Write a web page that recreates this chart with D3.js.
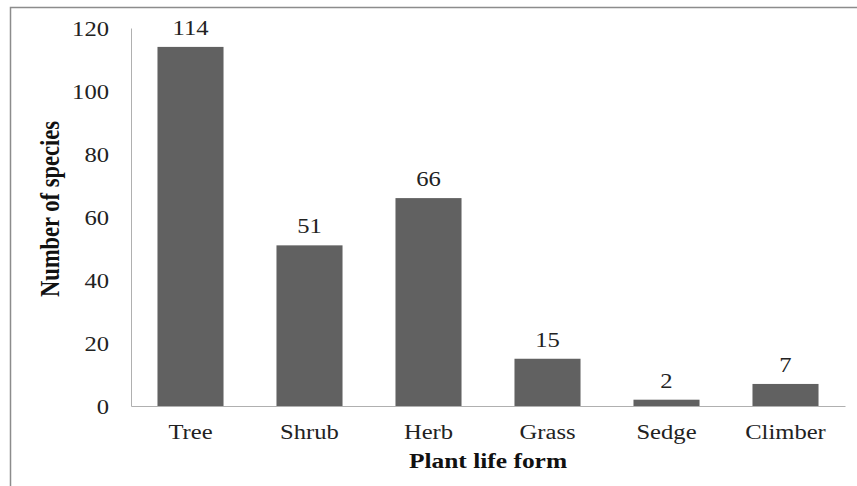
<!DOCTYPE html>
<html>
<head>
<meta charset="utf-8">
<script src="https://cdn.jsdelivr.net/npm/d3@7"></script>
<style>
  body { margin: 0; background: #fff; }
</style>
</head>
<body>
<div id="chart"></div>
<script>
const categories = ['Tree', 'Shrub', 'Herb', 'Grass', 'Sedge', 'Climber'];
const speciesCounts = [114, 51, 66, 15, 2, 7];
const yTicks = [0, 20, 40, 60, 80, 100, 120];

const W = 857, H = 486;
const margin = { top: 28, right: 12, bottom: 80, left: 131 };
const width = W - margin.left - margin.right;
const height = H - margin.top - margin.bottom;
const FONT = 'Liberation Serif, Times New Roman, serif';
const stretch = 1.2; // text in the reference is widened

const svg = d3.select('#chart')
  .append('svg')
  .attr('width', W)
  .attr('height', H)
  .attr('font-family', FONT);

// outer frame (runs off the right and bottom edges)
svg.append('rect')
  .attr('x', 10.5).attr('y', 7.5)
  .attr('width', W).attr('height', H)
  .attr('fill', 'none')
  .attr('stroke', '#8c8c8c')
  .attr('stroke-width', 1.5);

const g = svg.append('g')
  .attr('transform', `translate(${margin.left},${margin.top})`);

const x = d3.scaleBand().domain(categories).range([0, width]).paddingInner(0.445).paddingOuter(0.2225);
const y = d3.scaleLinear().domain([0, 120]).range([height, 0]);

const yAxis = g.append('g')
  .call(d3.axisLeft(y).tickValues(yTicks).tickSize(0).tickPadding(22));
yAxis.attr('font-family', FONT);
yAxis.select('.domain').attr('stroke', '#b0b0b0');
yAxis.selectAll('text').attr('font-size', 20.5).attr('fill', '#222').attr('dy', '0.37em');

const xAxis = g.append('g')
  .attr('transform', `translate(0,${height})`)
  .call(d3.axisBottom(x).tickSize(0).tickPadding(18.5));
xAxis.attr('font-family', FONT);
xAxis.select('.domain').attr('stroke', '#b0b0b0');
xAxis.selectAll('text').attr('font-size', 20.5).attr('fill', '#222');

g.selectAll('.bar')
  .data(categories)
  .enter()
  .append('rect')
  .attr('class', 'bar')
  .attr('x', (d) => x(d))
  .attr('y', (d, i) => y(speciesCounts[i]))
  .attr('width', x.bandwidth())
  .attr('height', (d, i) => height - y(speciesCounts[i]))
  .attr('fill', '#616161');

g.selectAll('.val')
  .data(categories)
  .enter()
  .append('text')
  .attr('class', 'val')
  .attr('text-anchor', 'middle')
  .attr('x', (d) => x(d) + x.bandwidth() / 2)
  .attr('y', (d, i) => y(speciesCounts[i]) - 12)
  .attr('font-size', 20.5)
  .attr('fill', '#222')
  .text((d, i) => speciesCounts[i]);

svg.append('text')
  .attr('text-anchor', 'middle')
  .attr('transform', `translate(59,209) scale(${stretch},1) rotate(-90)`)
  .attr('font-size', 22.5)
  .attr('font-weight', 'bold')
  .attr('fill', '#111')
  .text('Number of species');

svg.append('text')
  .attr('class', 'xtitle')
  .attr('text-anchor', 'middle')
  .attr('x', margin.left + width / 2)
  .attr('y', 468)
  .attr('font-size', 21.2)
  .attr('font-weight', 'bold')
  .attr('fill', '#111')
  .text('Plant life form');

// widen horizontal texts to match the reference proportions
svg.selectAll('.tick text, .val, .xtitle').each(function () {
  const len = this.getComputedTextLength();
  d3.select(this)
    .attr('textLength', len * stretch)
    .attr('lengthAdjust', 'spacingAndGlyphs');
});
</script>
</body>
</html>
